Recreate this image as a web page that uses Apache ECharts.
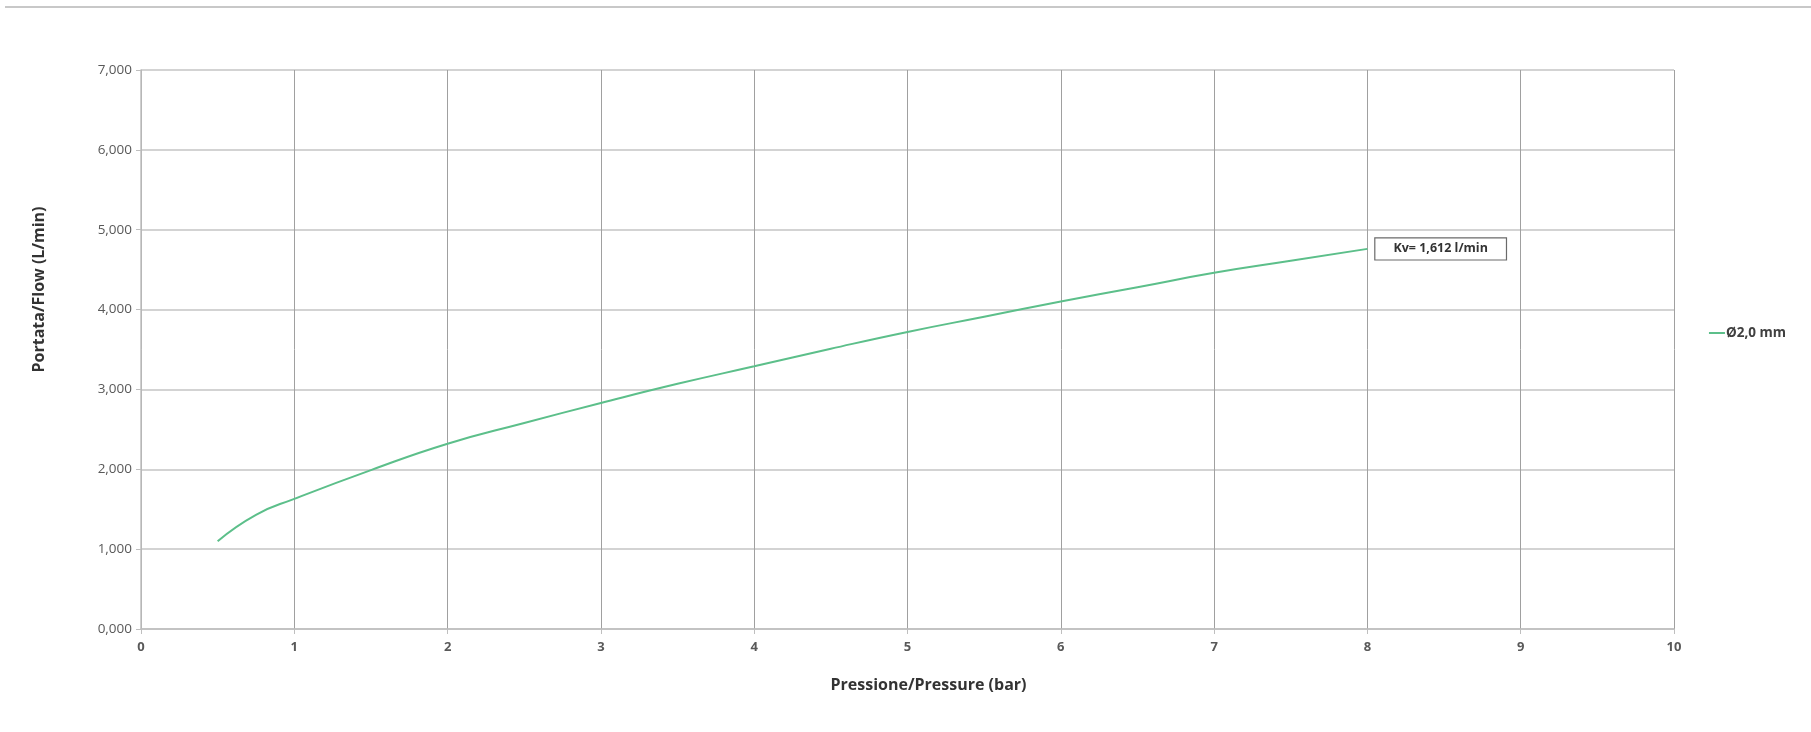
<!DOCTYPE html>
<html>
<head>
<meta charset="utf-8">
<script src="https://cdn.jsdelivr.net/npm/echarts@6/dist/echarts.min.js"></script>
<style>html,body{margin:0;padding:0;background:#fff}#c{width:1811px;height:732px}</style>
</head>
<body>
<div id="c"></div>
<script>
// Data
const pressure = [0.5, 0.75, 1, 1.5, 2, 2.5, 3, 3.5, 4, 4.5, 5, 5.5, 6, 6.5, 7, 7.5, 8];
const flow = [1.10, 1.43, 1.63, 1.99, 2.32, 2.58, 2.83, 3.07, 3.29, 3.51, 3.72, 3.91, 4.10, 4.28, 4.46, 4.61, 4.76];
const seriesName = 'Ø2,0 mm';
const kvLabel = 'Kv= 1,612 l/min';
const xTitle = 'Pressione/Pressure (bar)';
const yTitle = 'Portata/Flow (L/min)';

const FONT = '"Open Sans", "Liberation Sans", sans-serif';
const chart = echarts.init(document.getElementById('c'));
chart.setOption({
  animation: false,
  backgroundColor: '#fff',
  textStyle: { fontFamily: FONT },
  graphic: [{
    type: 'line', shape: { x1: 5, y1: 7, x2: 1811, y2: 7 },
    style: { stroke: '#c8c8c8', lineWidth: 2 }
  }],
  grid: { left: 141, right: 137, top: 70, bottom: 103 },
  legend: {
    right: 20, top: 321, orient: 'vertical',
    itemWidth: 16, itemHeight: 10, itemGap: 6,
    textStyle: { fontFamily: FONT, fontSize: 13.5, fontWeight: 'bold', color: '#404040', padding: [0, 0, 0, -4] },
    data: [{ name: seriesName, icon: 'path://M0,0 L16,0 L16,2 L0,2 Z' }]
  },
  xAxis: {
    type: 'value', min: 0, max: 10, interval: 1,
    name: xTitle, nameLocation: 'middle', nameGap: 48,
    nameTextStyle: { fontFamily: FONT, fontSize: 16, fontWeight: 'bold', color: '#333', padding: [0, 0, 0, 42] },
    axisLine: { show: true, lineStyle: { color: '#bfbfbf', width: 1.5 } },
    axisTick: { show: true, length: 5, lineStyle: { color: '#bfbfbf' } },
    axisLabel: { margin: 12, fontSize: 13, color: '#595959', fontWeight: 'bold' },
    splitLine: { show: true, lineStyle: { color: '#a0a0a0', width: 1 } }
  },
  yAxis: {
    type: 'value', min: 0, max: 7, interval: 1,
    name: yTitle, nameLocation: 'middle', nameGap: 94,
    nameTextStyle: { fontFamily: FONT, fontSize: 16, fontWeight: 'bold', color: '#333', padding: [0, 0, 0, 120] },
    axisLine: { show: true, lineStyle: { color: '#bfbfbf', width: 1.5 } },
    axisTick: { show: true, length: 5, lineStyle: { color: '#bfbfbf' } },
    axisLabel: {
      margin: 9, fontSize: 13.5, color: '#595959',
      formatter: v => v.toFixed(3).replace('.', ',')
    },
    splitLine: { show: true, lineStyle: { color: '#c4c4c4', width: 1.5 } }
  },
  series: [{
    name: seriesName, type: 'line', smooth: true, symbol: 'none',
    data: pressure.map((p, i) => [p, flow[i]]),
    lineStyle: { color: '#5cbf8a', width: 2 },
    itemStyle: { color: '#5cbf8a' },
    endLabel: {
      show: true, formatter: kvLabel, distance: 8,
      fontFamily: FONT, fontSize: 12.5, fontWeight: 'bold', color: '#333',
      backgroundColor: '#fff', borderColor: '#6a6a6a', borderWidth: 1.2,
      padding: [4, 18, 4, 18]
    }
  }]
});
</script>
</body>
</html>
